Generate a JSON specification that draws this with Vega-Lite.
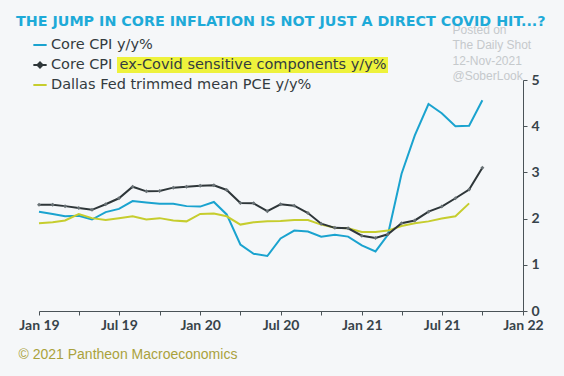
{
  "$schema": "https://vega.github.io/schema/vega-lite/v6.json",
  "width": 484,
  "height": 231,
  "autosize": {"type": "none"},
  "padding": {"left": 39, "top": 80, "right": 41, "bottom": 65},
  "background": "#f5f7f9",
  "config": {"view": {"stroke": null}, "font": "Lato"},
  "title": {
    "text": "THE JUMP IN CORE INFLATION IS NOT JUST A DIRECT COVID HIT...?",
    "anchor": "start",
    "frame": "group",
    "dx": -23,
    "fontSize": 14.3,
    "font": "DejaVu Sans",
    "fontWeight": "bold",
    "color": "#1eaad8",
    "baseline": "alphabetic",
    "offset": -17
  },
  "data": {
    "values": [
      {"date": "2019-01-01", "series": "Core CPI y/y%", "value": 2.15},
      {"date": "2019-02-01", "series": "Core CPI y/y%", "value": 2.10},
      {"date": "2019-03-01", "series": "Core CPI y/y%", "value": 2.05},
      {"date": "2019-04-01", "series": "Core CPI y/y%", "value": 2.06},
      {"date": "2019-05-01", "series": "Core CPI y/y%", "value": 1.98},
      {"date": "2019-06-01", "series": "Core CPI y/y%", "value": 2.14},
      {"date": "2019-07-01", "series": "Core CPI y/y%", "value": 2.21},
      {"date": "2019-08-01", "series": "Core CPI y/y%", "value": 2.38},
      {"date": "2019-09-01", "series": "Core CPI y/y%", "value": 2.35},
      {"date": "2019-10-01", "series": "Core CPI y/y%", "value": 2.32},
      {"date": "2019-11-01", "series": "Core CPI y/y%", "value": 2.32},
      {"date": "2019-12-01", "series": "Core CPI y/y%", "value": 2.27},
      {"date": "2020-01-01", "series": "Core CPI y/y%", "value": 2.26},
      {"date": "2020-02-01", "series": "Core CPI y/y%", "value": 2.36},
      {"date": "2020-03-01", "series": "Core CPI y/y%", "value": 2.09},
      {"date": "2020-04-01", "series": "Core CPI y/y%", "value": 1.44},
      {"date": "2020-05-01", "series": "Core CPI y/y%", "value": 1.24},
      {"date": "2020-06-01", "series": "Core CPI y/y%", "value": 1.19},
      {"date": "2020-07-01", "series": "Core CPI y/y%", "value": 1.57},
      {"date": "2020-08-01", "series": "Core CPI y/y%", "value": 1.74},
      {"date": "2020-09-01", "series": "Core CPI y/y%", "value": 1.72},
      {"date": "2020-10-01", "series": "Core CPI y/y%", "value": 1.61},
      {"date": "2020-11-01", "series": "Core CPI y/y%", "value": 1.65},
      {"date": "2020-12-01", "series": "Core CPI y/y%", "value": 1.61},
      {"date": "2021-01-01", "series": "Core CPI y/y%", "value": 1.42},
      {"date": "2021-02-01", "series": "Core CPI y/y%", "value": 1.29},
      {"date": "2021-03-01", "series": "Core CPI y/y%", "value": 1.65},
      {"date": "2021-04-01", "series": "Core CPI y/y%", "value": 2.97},
      {"date": "2021-05-01", "series": "Core CPI y/y%", "value": 3.80},
      {"date": "2021-06-01", "series": "Core CPI y/y%", "value": 4.48},
      {"date": "2021-07-01", "series": "Core CPI y/y%", "value": 4.28},
      {"date": "2021-08-01", "series": "Core CPI y/y%", "value": 4.00},
      {"date": "2021-09-01", "series": "Core CPI y/y%", "value": 4.01},
      {"date": "2021-10-01", "series": "Core CPI y/y%", "value": 4.56},
      {"date": "2019-01-01", "series": "Dallas Fed trimmed mean PCE y/y%", "value": 1.90},
      {"date": "2019-02-01", "series": "Dallas Fed trimmed mean PCE y/y%", "value": 1.92},
      {"date": "2019-03-01", "series": "Dallas Fed trimmed mean PCE y/y%", "value": 1.96},
      {"date": "2019-04-01", "series": "Dallas Fed trimmed mean PCE y/y%", "value": 2.10},
      {"date": "2019-05-01", "series": "Dallas Fed trimmed mean PCE y/y%", "value": 2.01},
      {"date": "2019-06-01", "series": "Dallas Fed trimmed mean PCE y/y%", "value": 1.97},
      {"date": "2019-07-01", "series": "Dallas Fed trimmed mean PCE y/y%", "value": 2.01},
      {"date": "2019-08-01", "series": "Dallas Fed trimmed mean PCE y/y%", "value": 2.05},
      {"date": "2019-09-01", "series": "Dallas Fed trimmed mean PCE y/y%", "value": 1.98},
      {"date": "2019-10-01", "series": "Dallas Fed trimmed mean PCE y/y%", "value": 2.01},
      {"date": "2019-11-01", "series": "Dallas Fed trimmed mean PCE y/y%", "value": 1.96},
      {"date": "2019-12-01", "series": "Dallas Fed trimmed mean PCE y/y%", "value": 1.94},
      {"date": "2020-01-01", "series": "Dallas Fed trimmed mean PCE y/y%", "value": 2.10},
      {"date": "2020-02-01", "series": "Dallas Fed trimmed mean PCE y/y%", "value": 2.11},
      {"date": "2020-03-01", "series": "Dallas Fed trimmed mean PCE y/y%", "value": 2.05},
      {"date": "2020-04-01", "series": "Dallas Fed trimmed mean PCE y/y%", "value": 1.87},
      {"date": "2020-05-01", "series": "Dallas Fed trimmed mean PCE y/y%", "value": 1.92},
      {"date": "2020-06-01", "series": "Dallas Fed trimmed mean PCE y/y%", "value": 1.94},
      {"date": "2020-07-01", "series": "Dallas Fed trimmed mean PCE y/y%", "value": 1.95},
      {"date": "2020-08-01", "series": "Dallas Fed trimmed mean PCE y/y%", "value": 1.97},
      {"date": "2020-09-01", "series": "Dallas Fed trimmed mean PCE y/y%", "value": 1.97},
      {"date": "2020-10-01", "series": "Dallas Fed trimmed mean PCE y/y%", "value": 1.87},
      {"date": "2020-11-01", "series": "Dallas Fed trimmed mean PCE y/y%", "value": 1.80},
      {"date": "2020-12-01", "series": "Dallas Fed trimmed mean PCE y/y%", "value": 1.79},
      {"date": "2021-01-01", "series": "Dallas Fed trimmed mean PCE y/y%", "value": 1.71},
      {"date": "2021-02-01", "series": "Dallas Fed trimmed mean PCE y/y%", "value": 1.71},
      {"date": "2021-03-01", "series": "Dallas Fed trimmed mean PCE y/y%", "value": 1.74},
      {"date": "2021-04-01", "series": "Dallas Fed trimmed mean PCE y/y%", "value": 1.84},
      {"date": "2021-05-01", "series": "Dallas Fed trimmed mean PCE y/y%", "value": 1.90},
      {"date": "2021-06-01", "series": "Dallas Fed trimmed mean PCE y/y%", "value": 1.94},
      {"date": "2021-07-01", "series": "Dallas Fed trimmed mean PCE y/y%", "value": 2.00},
      {"date": "2021-08-01", "series": "Dallas Fed trimmed mean PCE y/y%", "value": 2.05},
      {"date": "2021-09-01", "series": "Dallas Fed trimmed mean PCE y/y%", "value": 2.33},
      {"date": "2019-01-01", "series": "Core CPI ex-Covid sensitive components y/y%", "value": 2.30},
      {"date": "2019-02-01", "series": "Core CPI ex-Covid sensitive components y/y%", "value": 2.30},
      {"date": "2019-03-01", "series": "Core CPI ex-Covid sensitive components y/y%", "value": 2.27},
      {"date": "2019-04-01", "series": "Core CPI ex-Covid sensitive components y/y%", "value": 2.23},
      {"date": "2019-05-01", "series": "Core CPI ex-Covid sensitive components y/y%", "value": 2.19},
      {"date": "2019-06-01", "series": "Core CPI ex-Covid sensitive components y/y%", "value": 2.31},
      {"date": "2019-07-01", "series": "Core CPI ex-Covid sensitive components y/y%", "value": 2.44},
      {"date": "2019-08-01", "series": "Core CPI ex-Covid sensitive components y/y%", "value": 2.69},
      {"date": "2019-09-01", "series": "Core CPI ex-Covid sensitive components y/y%", "value": 2.59},
      {"date": "2019-10-01", "series": "Core CPI ex-Covid sensitive components y/y%", "value": 2.60},
      {"date": "2019-11-01", "series": "Core CPI ex-Covid sensitive components y/y%", "value": 2.67},
      {"date": "2019-12-01", "series": "Core CPI ex-Covid sensitive components y/y%", "value": 2.69},
      {"date": "2020-01-01", "series": "Core CPI ex-Covid sensitive components y/y%", "value": 2.71},
      {"date": "2020-02-01", "series": "Core CPI ex-Covid sensitive components y/y%", "value": 2.72},
      {"date": "2020-03-01", "series": "Core CPI ex-Covid sensitive components y/y%", "value": 2.62},
      {"date": "2020-04-01", "series": "Core CPI ex-Covid sensitive components y/y%", "value": 2.34},
      {"date": "2020-05-01", "series": "Core CPI ex-Covid sensitive components y/y%", "value": 2.33},
      {"date": "2020-06-01", "series": "Core CPI ex-Covid sensitive components y/y%", "value": 2.16},
      {"date": "2020-07-01", "series": "Core CPI ex-Covid sensitive components y/y%", "value": 2.31},
      {"date": "2020-08-01", "series": "Core CPI ex-Covid sensitive components y/y%", "value": 2.28},
      {"date": "2020-09-01", "series": "Core CPI ex-Covid sensitive components y/y%", "value": 2.12},
      {"date": "2020-10-01", "series": "Core CPI ex-Covid sensitive components y/y%", "value": 1.89},
      {"date": "2020-11-01", "series": "Core CPI ex-Covid sensitive components y/y%", "value": 1.80},
      {"date": "2020-12-01", "series": "Core CPI ex-Covid sensitive components y/y%", "value": 1.79},
      {"date": "2021-01-01", "series": "Core CPI ex-Covid sensitive components y/y%", "value": 1.63},
      {"date": "2021-02-01", "series": "Core CPI ex-Covid sensitive components y/y%", "value": 1.58},
      {"date": "2021-03-01", "series": "Core CPI ex-Covid sensitive components y/y%", "value": 1.66},
      {"date": "2021-04-01", "series": "Core CPI ex-Covid sensitive components y/y%", "value": 1.90},
      {"date": "2021-05-01", "series": "Core CPI ex-Covid sensitive components y/y%", "value": 1.96},
      {"date": "2021-06-01", "series": "Core CPI ex-Covid sensitive components y/y%", "value": 2.15},
      {"date": "2021-07-01", "series": "Core CPI ex-Covid sensitive components y/y%", "value": 2.26},
      {"date": "2021-08-01", "series": "Core CPI ex-Covid sensitive components y/y%", "value": 2.44},
      {"date": "2021-09-01", "series": "Core CPI ex-Covid sensitive components y/y%", "value": 2.63},
      {"date": "2021-10-01", "series": "Core CPI ex-Covid sensitive components y/y%", "value": 3.10}
    ]
  },
  "layer": [
    {
      "mark": {"type": "line", "strokeWidth": 2},
      "encoding": {
        "x": {
          "field": "date",
          "type": "temporal",
          "scale": {
            "type": "utc",
            "domain": [
              {"year": 2019, "month": 1, "date": 1, "utc": true},
              {"year": 2022, "month": 1, "date": 1, "utc": true}
            ]
          },
          "axis": {
            "grid": false,
            "tickCount": {"interval": "month", "step": 3},
            "labelExpr": "utcmonth(datum.value) % 6 === 0 ? utcFormat(datum.value, '%b %y') : ''",
            "labelOverlap": false,
            "labelFlush": false,
            "domainColor": "#4a5358",
            "tickColor": "#4a5358",
            "tickSize": 4,
            "labelPadding": 3,
            "labelFont": "Lato",
            "labelFontSize": 14,
            "labelFontWeight": "bold",
            "labelColor": "#37434a",
            "title": "© 2021 Pantheon Macroeconomics",
            "titleX": -21,
            "titleY": 47.5,
            "titleAlign": "left",
            "titleBaseline": "alphabetic",
            "titleFont": "Liberation Sans",
            "titleFontSize": 14,
            "titleFontWeight": "normal",
            "titleColor": "#aaa23c"
          }
        },
        "y": {
          "field": "value",
          "type": "quantitative",
          "scale": {"domain": [0, 5], "nice": false},
          "axis": {
            "orient": "right",
            "grid": false,
            "values": [0, 1, 2, 3, 4, 5],
            "domainColor": "#4a5358",
            "tickColor": "#4a5358",
            "tickSize": 4,
            "labelPadding": 4,
            "labelFont": "Lato",
            "labelFontSize": 14,
            "labelFontWeight": "bold",
            "labelColor": "#37434a",
            "title": ["Posted on", "The Daily Shot", "12-Nov-2021", " ", "@SoberLook"],
            "titleAngle": 0,
            "titleX": -71,
            "titleY": -47,
            "titleAlign": "left",
            "titleBaseline": "alphabetic",
            "titleFont": "Liberation Sans",
            "titleFontSize": 12,
            "titleFontWeight": "normal",
            "titleColor": "#c5c9cc",
            "titleLineHeight": 15.5
          }
        },
        "color": {
          "field": "series",
          "type": "nominal",
          "scale": {
            "domain": ["Core CPI y/y%", "Core CPI ex-Covid sensitive components y/y%", "Dallas Fed trimmed mean PCE y/y%"],
            "range": ["#1aa3cf", "#2e3639", "#c6cd2e"]
          },
          "legend": {
            "orient": "none",
            "legendX": -7,
            "legendY": -43,
            "title": null,
            "direction": "vertical",
            "padding": 0,
            "symbolType": "stroke",
            "symbolSize": 177,
            "symbolStrokeWidth": 2,
            "labelFont": "DejaVu Sans",
            "labelFontSize": 14.5,
            "labelColor": "#333b40",
            "labelOffset": 3,
            "rowPadding": 5,
            "labelLimit": 400,
            "labelExpr": "datum.label === 'Core CPI ex-Covid sensitive components y/y%' ? 'Core CPI' : datum.label",
            "encode": {
              "symbols": {
                "update": {
                  "shape": {"signal": "datum.value === 'Core CPI ex-Covid sensitive components y/y%' ? 'M-1,0L1,0M-0.38,0L0,-0.38L0.38,0L0,0.38Z' : 'stroke'"}
                }
              }
            }
          }
        }
      }
    },
    {
      "transform": [{"filter": "datum.series === 'Core CPI ex-Covid sensitive components y/y%'"}],
      "mark": {"type": "point", "filled": true, "size": 16, "color": "#6a7377", "opacity": 1},
      "encoding": {
        "x": {"field": "date", "type": "temporal"},
        "y": {"field": "value", "type": "quantitative"},
        "shape": {
          "datum": "ex-Covid sensitive components y/y%",
          "scale": {"range": ["diamond"]},
          "legend": {
            "orient": "none",
            "legendX": 78,
            "legendY": -23,
            "title": null,
            "padding": 1,
            "fillColor": "#eef23c",
            "symbolSize": 0,
            "symbolStrokeWidth": 0,
            "symbolOpacity": 0,
            "labelOffset": -13,
            "labelFont": "DejaVu Sans",
            "labelFontSize": 14.5,
            "labelColor": "#333b40",
            "labelLimit": 400
          }
        }
      }
    }
  ]
}
